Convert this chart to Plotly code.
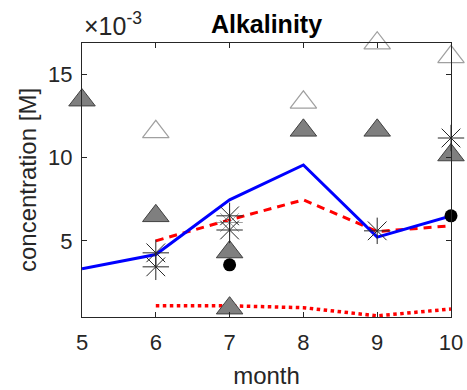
import plotly.graph_objects as go

months = [5, 6, 7, 8, 9, 10]
# values in units of 1e-3 M
blue_model = [3.32, 4.18, 7.46, 9.55, 5.22, 6.5]
red_dash_x = [6, 7, 8, 9, 10]
red_dash = [5.0, 6.26, 7.46, 5.56, 5.9]
red_dot_x = [6, 7, 8, 9, 10]
red_dot = [1.1, 1.1, 0.99, 0.5, 0.91]

circ_x = [7, 10]
circ_y = [3.56, 6.5]

filled_tri_x = [5, 6, 7, 7, 8, 9, 10]
filled_tri_y = [13.44, 6.5, 4.33, 0.96, 11.63, 11.63, 10.15]

open_tri_x = [6, 8, 9, 10]
open_tri_y = [11.54, 13.31, 16.86, 16.04]

ast_x = [6, 6, 7, 7, 9, 10]
ast_y = [4.28, 3.44, 6.5, 5.65, 5.6, 11.17]
gray_ast_x = [7]
gray_ast_y = [6.1]

scale = 1e-3
s = lambda v: [x * scale for x in v]

FONT = "Liberation Sans, Arial"
TXT = "#262626"

fig = go.Figure()
fig.add_trace(go.Scatter(x=red_dot_x, y=s(red_dot), mode="lines", cliponaxis=False,
                         line=dict(color="#ff0000", width=3.5, dash="dot")))
fig.add_trace(go.Scatter(x=red_dash_x, y=s(red_dash), mode="lines",
                         line=dict(color="#ff0000", width=3, dash="8px,6px")))
fig.add_trace(go.Scatter(x=months, y=s(blue_model), mode="lines",
                         line=dict(color="#0000ff", width=3)))
fig.add_trace(go.Scatter(x=open_tri_x, y=s(open_tri_y), mode="markers", cliponaxis=False,
                         marker=dict(symbol="triangle-up", size=23, color="white",
                                     line=dict(color="#a0a0a0", width=1.2))))
fig.add_trace(go.Scatter(x=filled_tri_x, y=s(filled_tri_y), mode="markers", cliponaxis=False,
                         marker=dict(symbol="triangle-up", size=23, color="#7f7f7f",
                                     line=dict(color="#404040", width=1))))
fig.add_trace(go.Scatter(x=circ_x, y=s(circ_y), mode="markers", cliponaxis=False,
                         marker=dict(symbol="circle", size=13, color="black")))
fig.add_trace(go.Scatter(x=gray_ast_x, y=s(gray_ast_y), mode="markers", cliponaxis=False,
                         marker=dict(symbol="asterisk-open", size=22, color="#a0a0a0",
                                     line=dict(color="#a0a0a0", width=1))))
fig.add_trace(go.Scatter(x=ast_x, y=s(ast_y), mode="markers", cliponaxis=False,
                         marker=dict(symbol="asterisk-open", size=22, color="#262626",
                                     line=dict(color="#262626", width=1))))

axis_common = dict(showgrid=False, zeroline=False, showline=True, mirror="ticks",
                   linecolor="#262626", linewidth=1, ticks="inside", ticklen=5,
                   tickcolor="#262626", tickfont=dict(family=FONT, size=22, color=TXT),
                   automargin=False)

fig.update_layout(
    width=467, height=390,
    margin=dict(l=82, r=16, t=43, b=73),
    paper_bgcolor="white", plot_bgcolor="white",
    showlegend=False,
    title=dict(text="<b>Alkalinity</b>", x=0.5, xanchor="center", xref="paper",
               y=1 - 24 / 390, yanchor="middle",
               font=dict(family=FONT, size=25, color="black")),
    xaxis=dict(range=[5, 10], tickvals=months, ticktext=[str(m) for m in months],
               title=dict(text="month", font=dict(family=FONT, size=24, color=TXT), standoff=12),
               ticklabelstandoff=6, **axis_common),
    yaxis=dict(range=[0.43e-3, 16.87e-3], tickvals=[5e-3, 10e-3, 15e-3], ticktext=["5", "10", "15"],
               title=dict(text="concentration [M]", font=dict(family=FONT, size=24, color=TXT), standoff=4),
               ticklabelstandoff=4, **axis_common),
    annotations=[dict(text="×10<sup>-3</sup>", xref="paper", yref="paper", x=0, y=1,
                      xanchor="left", yanchor="bottom", showarrow=False, xshift=0, yshift=1,
                      font=dict(family=FONT, size=25, color=TXT))],
)

fig.write_html("out.html")
